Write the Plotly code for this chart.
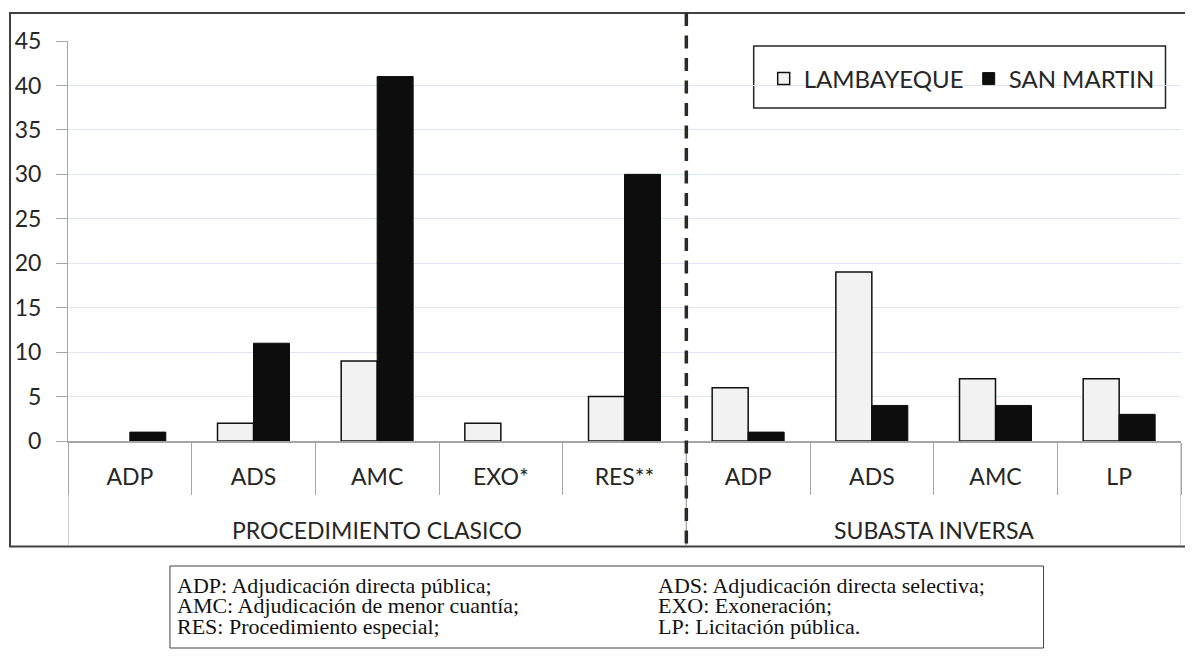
import plotly.graph_objects as go

groups = ["PROCEDIMIENTO CLASICO"] * 5 + ["SUBASTA INVERSA"] * 4
categories = ["ADP", "ADS", "AMC", "EXO*", "RES**", "ADP", "ADS", "AMC", "LP"]
lambayeque = [None, 2, 9, 2, 5, 6, 19, 7, 7]
san_martin = [1, 11, 41, None, 30, 1, 4, 4, 3]
y_ticks = [0, 5, 10, 15, 20, 25, 30, 35, 40, 45]
notes_left = ["ADP: Adjudicación directa pública;",
              "AMC: Adjudicación de menor cuantía;",
              "RES: Procedimiento especial;"]
notes_right = ["ADS: Adjudicación directa selectiva;",
               "EXO: Exoneración;",
               "LP: Licitación pública."]

FONT = "Lato"
OFF = 8  # page body margin
W, H = 1185, 655
L, R, T, B = 60, 11.5, 33, 222
pw, ph = W - L - R, H - T - B


def px_x(sx):
    return (sx - OFF - L) / pw


def px_y(sy):
    return (H - B - (sy - OFF)) / ph


xs = list(range(len(categories)))

fig = go.Figure()
fig.add_trace(go.Bar(x=xs, y=lambayeque, name="LAMBAYEQUE",
                     marker=dict(color="#f2f2f2", line=dict(color="#111111", width=1.5))))
fig.add_trace(go.Bar(x=xs, y=san_martin, name="SAN MARTIN",
                     marker=dict(color="#0d0d0d", line=dict(color="#0d0d0d", width=1))))

# group structure derived from the data
group_names = []
for g in groups:
    if g not in group_names:
        group_names.append(g)
group_spans = []
for g in group_names:
    idx = [i for i, gg in enumerate(groups) if gg == g]
    group_spans.append((g, idx[0] - 0.5, idx[-1] + 0.5))

shapes = []
# outer border (top, left, bottom)
shapes.append(dict(type="path", xref="paper", yref="paper",
                   path=f"M {px_x(1200)},{px_y(13)} L {px_x(10)},{px_y(13)} L {px_x(10)},{px_y(546.5)} L {px_x(1200)},{px_y(546.5)}",
                   line=dict(color="#404040", width=2)))
# group dividers below the axis
for gi, (g, x0, x1) in enumerate(group_spans):
    for xb in (x0, x1):
        shapes.append(dict(type="line", xref="x", yref="paper", x0=xb, x1=xb,
                           y0=px_y(546), y1=0, line=dict(color="#a6a6a6", width=1)))
# dashed separator between groups
for g, x0, x1 in group_spans[:-1]:
    shapes.append(dict(type="line", xref="x", yref="paper", x0=x1, x1=x1,
                       y0=px_y(13), y1=px_y(546),
                       line=dict(color="#2b2b24", width=3.5, dash="13px,9.5px")))
# legend box
shapes.append(dict(type="rect", xref="paper", yref="paper",
                   x0=px_x(754), x1=px_x(1166), y0=px_y(108), y1=px_y(46),
                   line=dict(color="#262626", width=1.5), fillcolor="white", layer="below"))
# footnote box
shapes.append(dict(type="rect", xref="paper", yref="paper",
                   x0=px_x(170), x1=px_x(1044), y0=px_y(648), y1=px_y(566),
                   line=dict(color="#404040", width=1)))

annotations = []
for g, x0, x1 in group_spans:
    annotations.append(dict(text=g, xref="x", yref="paper", x=(x0 + x1) / 2, y=px_y(530),
                            xanchor="center", yanchor="middle", showarrow=False,
                            font=dict(family=FONT, size=23, color="#262626")))
for i, (a, b) in enumerate(zip(notes_left, notes_right)):
    yy = px_y(585 + i * 20.7)
    annotations.append(dict(text=a, xref="paper", yref="paper", x=px_x(175), y=yy,
                            xanchor="left", yanchor="middle", showarrow=False,
                            font=dict(family="Liberation Serif", size=22, color="#111111")))
    annotations.append(dict(text=b, xref="paper", yref="paper", x=px_x(656), y=yy,
                            xanchor="left", yanchor="middle", showarrow=False,
                            font=dict(family="Liberation Serif", size=22, color="#111111")))

fig.update_layout(
    width=W, height=H,
    margin=dict(l=L, r=R, t=T, b=B, pad=0, autoexpand=False),
    paper_bgcolor="white", plot_bgcolor="white",
    barmode="group", bargap=0.418, bargroupgap=0,
    font=dict(family=FONT, size=23, color="#262626"),
    showlegend=True,
    legend=dict(orientation="h", x=px_x(764), y=px_y(79), xanchor="left", yanchor="middle",
                bgcolor="rgba(0,0,0,0)", borderwidth=0, font=dict(size=24, family=FONT, color="#262626"),
                itemwidth=30, entrywidth=160, entrywidthmode="pixels", traceorder="normal"),
    shapes=shapes,
    annotations=annotations,
)
fig.update_yaxes(range=[0, 45], tickvals=y_ticks, showgrid=True, gridcolor="#dce6f2", gridwidth=1,
                 showline=True, linecolor="#a6a6a6", linewidth=1, ticks="outside", ticklen=11,
                 tickcolor="#a6a6a6", ticklabelstandoff=10, zeroline=False,
                 tickfont=dict(family=FONT, size=23, color="#262626"))
fig.update_xaxes(range=[-0.5, len(categories) - 0.5], tickvals=xs, ticktext=categories,
                 showline=True, linecolor="#a6a6a6", linewidth=1.5, showgrid=False, zeroline=False,
                 ticks="", ticklabelstandoff=15,
                 minor=dict(ticks="outside", ticklen=52, tickcolor="#a6a6a6", tickwidth=1,
                            tick0=0.5, dtick=1, showgrid=False),
                 tickfont=dict(family=FONT, size=23, color="#262626"))

fig.write_html("out.html")
